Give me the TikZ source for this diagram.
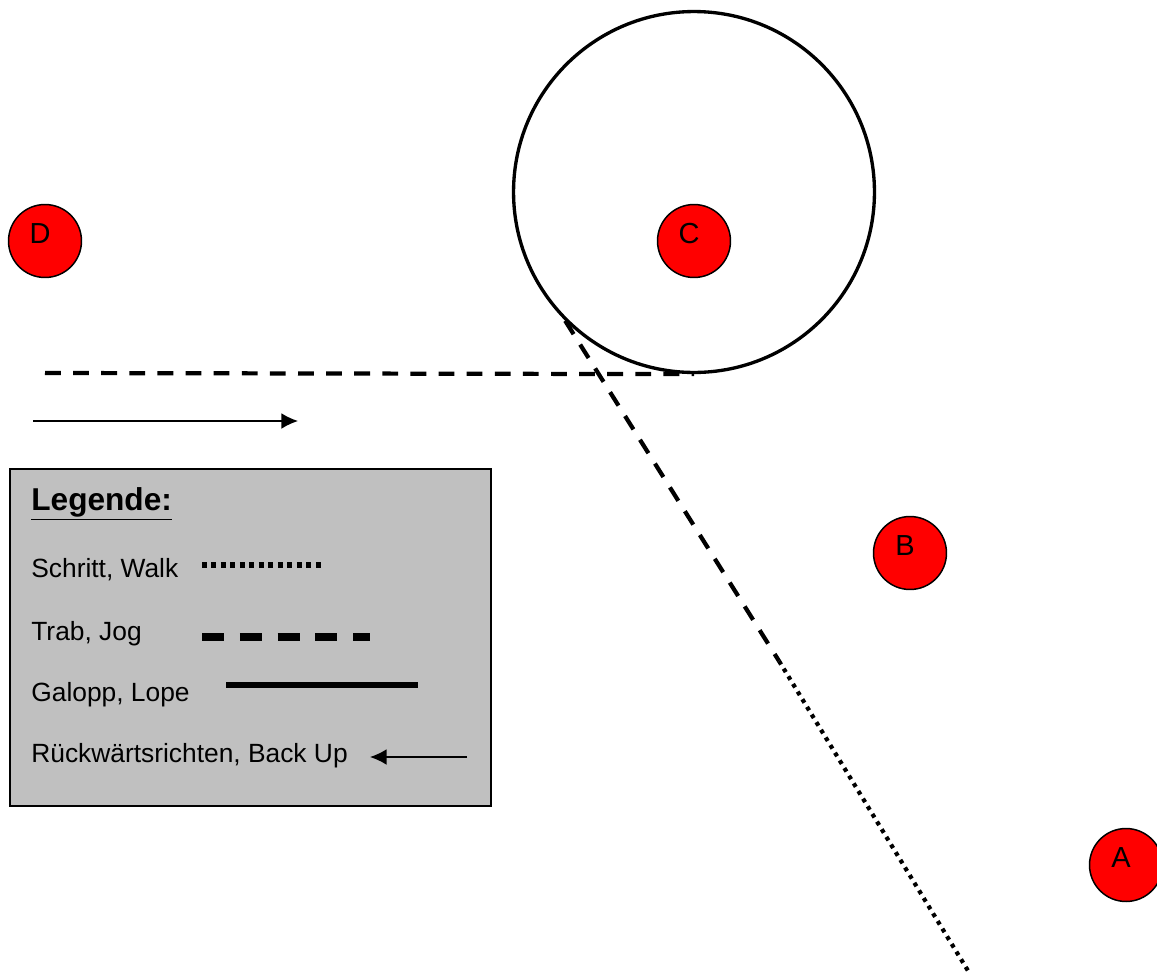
\documentclass[tikz,border=0pt]{standalone}
\usepackage{fontspec}
\setmainfont{Liberation Sans}
\usetikzlibrary{arrows.meta}
\definecolor{legendgray}{HTML}{C0C0C0}
\begin{document}
\begin{tikzpicture}[x=0.02cm, y=-0.02cm,
  cone/.style={circle, draw, fill=red, line width=0.85pt, minimum size=1.46cm, inner sep=0pt},
  conelabel/.style={font=\fontsize{16.5}{19}\selectfont, inner sep=0pt, xshift=-2.8pt, yshift=4.3pt},
  ring/.style={circle, draw, line width=1.9pt, minimum size=7.22cm, inner sep=0pt},
  trot/.style={line width=2.4pt, dash pattern=on 9pt off 7pt},
  walk/.style={line width=2.4pt, dash pattern=on 2.3pt off 2.8pt},
  lope/.style={line width=3.4pt},
  pointer/.style={line width=0.8pt, -{Latex[length=9.5pt, width=9pt]}},
  legendtext/.style={anchor=base west, font=\fontsize{15}{18}\selectfont, inner sep=0pt}]
  \useasboundingbox (0,0) rectangle (1157,974);

  \node[ring] (ring) at (694,192) {};
  \node[cone, label={[conelabel]center:D}] (D) at (45,241) {};
  \node[cone, label={[conelabel]center:C}] (C) at (694,241) {};
  \node[cone, label={[conelabel]center:B}] (B) at (910,553) {};
  \node[cone, label={[conelabel]center:A}] (A) at (1126,865) {};

  \coordinate (trotstart) at (45,373);
  \coordinate (gaitchange) at (779,661);
  \coordinate (walkend) at (970,974);
  \coordinate (arrowstart) at (33,421);
  \coordinate (arrowend) at (298,421);

  \draw[trot] (trotstart) -- (ring.south);
  \draw[trot] (ring.south west) -- (gaitchange);
  \draw[walk] (gaitchange) -- (walkend);
  \draw[pointer] (arrowstart) -- (arrowend);

  \node[draw, fill=legendgray, line width=1.1pt, anchor=north west, inner sep=0pt,
    minimum width=9.62cm, minimum height=6.74cm] (legend) at (9,468) {};
  \node[legendtext, font=\fontsize{18}{22}\selectfont\bfseries] (title) at (31,510) {\underline{Legende:}};
  \node[legendtext] (walktext) at (31,577) {Schritt, Walk};
  \node[legendtext] (trottext) at (31,640) {Trab, Jog};
  \node[legendtext] (lopetext) at (31,701) {Galopp, Lope};
  \node[legendtext] (backtext) at (31,762) {Rückwärtsrichten, Back Up};

  \draw[walk, line width=2.9pt, dash pattern=on 2.8pt off 2.6pt] (202,565) -- (322,565);
  \draw[trot, line width=4.5pt, dash pattern=on 12.5pt off 9pt] (202,637) -- (370,637);
  \draw[lope] (226,685) -- (418,685);
  \draw[pointer] (467,757) -- (370,757);
\end{tikzpicture}
\end{document}
